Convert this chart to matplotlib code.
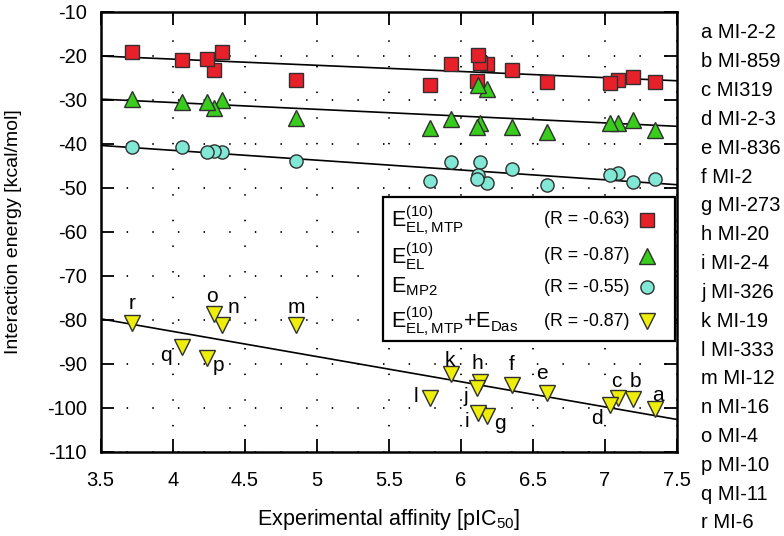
import numpy as np
import matplotlib
matplotlib.use("Agg")
import matplotlib.pyplot as plt
from matplotlib.patches import Rectangle

plt.rcParams['font.family'] = ['Liberation Sans', 'DejaVu Sans']
plt.rcParams['mathtext.fontset'] = 'custom'
plt.rcParams['mathtext.rm'] = 'Liberation Sans'
plt.rcParams['mathtext.it'] = 'Liberation Sans:italic'
plt.rcParams['mathtext.bf'] = 'Liberation Sans:bold'
plt.rcParams['axes.unicode_minus'] = False

# ---- data (compounds a..r) ----
letters = list("abcdefghijklmnopqr")
names = ["MI-2-2", "MI-859", "MI319", "MI-2-3", "MI-836", "MI-2", "MI-273", "MI-20",
         "MI-2-4", "MI-326", "MI-19", "MI-333", "MI-12", "MI-16", "MI-4", "MI-10",
         "MI-11", "MI-6"]
pic50 = [7.349, 7.194, 7.094, 7.04, 6.597, 6.354, 6.185, 6.134, 6.122, 6.11,
         5.93, 5.787, 4.856, 4.345, 4.287, 4.236, 4.062, 3.715]
e_el_mtp = [-25.9, -24.9, -25.5, -26.1, -25.9, -23.25, -22.0, -21.7, -19.8, -25.7,
            -21.9, -26.7, -25.5, -19.1, -23.2, -20.8, -21.0, -19.1]
e_el = [-37.0, -34.6, -35.2, -35.4, -37.4, -36.3, -27.6, -35.4, -26.7, -36.3,
        -34.4, -36.5, -34.2, -30.1, -32.0, -30.5, -30.5, -29.9]
e_mp2 = [-48.1, -48.6, -46.7, -47.1, -49.4, -45.8, -49.0, -44.1, -47.1, -48.1,
         -44.1, -48.4, -43.9, -41.8, -41.6, -41.8, -40.8, -40.8]
e_das = [-100.4, -98.1, -97.9, -99.4, -96.7, -94.8, -102.0, -94.1, -101.1, -95.6,
         -92.4, -97.9, -81.2, -81.2, -78.7, -88.8, -86.3, -80.7]
r_values = ["-0.63", "-0.87", "-0.55", "-0.87"]
series_labels = [r'$\mathrm{E}^{(10)}_{\mathrm{EL,MTP}}$',
                 r'$\mathrm{E}^{(10)}_{\mathrm{EL}}$',
                 r'$\mathrm{E}_{\mathrm{MP2}}$',
                 r'$\mathrm{E}^{(10)}_{\mathrm{EL,MTP}}\mathrm{+E}_{\mathrm{Das}}$']

# label offsets (pixels) for letter annotations of the Das series
label_offsets = [(3, 14), (3, 18), (-2, 17), (-14, -13), (-5, 20), (0, 20), (13, -7),
                 (-3, 18), (-11, -9), (-11, -8), (-1, 14), (-14, 2), (0, 17), (11, 17),
                 (-2, 17), (12, -7), (-16, -8), (0, 19)]

W, H = 784, 536
fig = plt.figure(figsize=(W / 100, H / 100), dpi=100)
ax = fig.add_axes([100.7 / W, 1 - 451.7 / H, 576 / W, 440 / H])

styles = [
    dict(marker='s', ms=9.5, mfc='#e8202a'),
    dict(marker='^', ms=12, mfc='#38cc1c'),
    dict(marker='o', ms=9.5, mfc='#80e8d4'),
    dict(marker='v', ms=12, mfc='#eeee0a'),
]
series = [e_el_mtp, e_el, e_mp2, e_das]
x = np.array(pic50)
xx = np.array([3.5, 7.5])
for ys, st in zip(series, styles):
    ys = np.array(ys)
    k, b = np.polyfit(x, ys, 1)
    ax.plot(xx, k * xx + b, color='black', lw=1.2, zorder=3)
    ax.plot(x, ys, ls='none', mec='#303030', mew=1.0, zorder=4, **st)

for xi, yi, lt, off in zip(pic50, e_das, letters, label_offsets):
    ax.annotate(lt, (xi, yi), xytext=off, textcoords='offset pixels',
                ha='center', va='center', fontsize=15, zorder=5)

ax.set_xlim(3.5, 7.5)
ax.set_ylim(-110, -10)
ax.set_xticks(np.arange(3.5, 7.51, 0.5))
ax.set_xticklabels(["3.5", "4", "4.5", "5", "5.5", "6", "6.5", "7", "7.5"])
ax.set_yticks(np.arange(-110, -9, 10))
ax.tick_params(direction='in', length=9.5, width=1.3, top=True, right=True,
               labelsize=14.5)
ax.tick_params(axis='x', pad=14)
ax.tick_params(axis='y', pad=10)
for s in ax.spines.values():
    s.set_linewidth(1.8)
ax.grid(True, color='black', lw=1.3, linestyle=(0, (0.8, 13.4)), zorder=1)
ax.set_axisbelow(True)

ax.set_xlabel('Experimental affinity [pIC$_{50}$]', fontsize=15.5, va='center')
ax.set_ylabel('Interaction energy [kcal/mol]', fontsize=14, va='center')
ax.xaxis.set_label_coords(0.5, -0.153)
ax.yaxis.set_label_coords(-0.152, 0.5)

# legend box
ax.add_patch(Rectangle((0.4896, 0.2523), 0.9974 - 0.4896, 0.5795 - 0.2523,
                       transform=ax.transAxes, facecolor='white', edgecolor='black',
                       lw=1.6, zorder=6))
rows_y = [0.5266, 0.4448, 0.3743, 0.297]
for ry, lab, rv, st in zip(rows_y, series_labels, r_values, styles):
    ax.text(0.5035, ry, lab, transform=ax.transAxes, ha='left', va='center',
            fontsize=15.5, zorder=7)
    ax.text(0.770, ry, f'(R = {rv})', transform=ax.transAxes, ha='left',
            va='center', fontsize=12.8, zorder=7)
    ax.plot([0.949], [ry], transform=ax.transAxes, ls='none', mec='#303030',
            mew=1.0, zorder=7, clip_on=False, **st)

# compound name list
ys_list = np.linspace(1 - 33 / H, 1 - 523 / H, len(letters))
for yv, lt, nm in zip(ys_list, letters, names):
    fig.text(701 / W, yv, f'{lt} {nm}', ha='left', va='center', fontsize=14.5)

fig.savefig('out.png', dpi=100)
